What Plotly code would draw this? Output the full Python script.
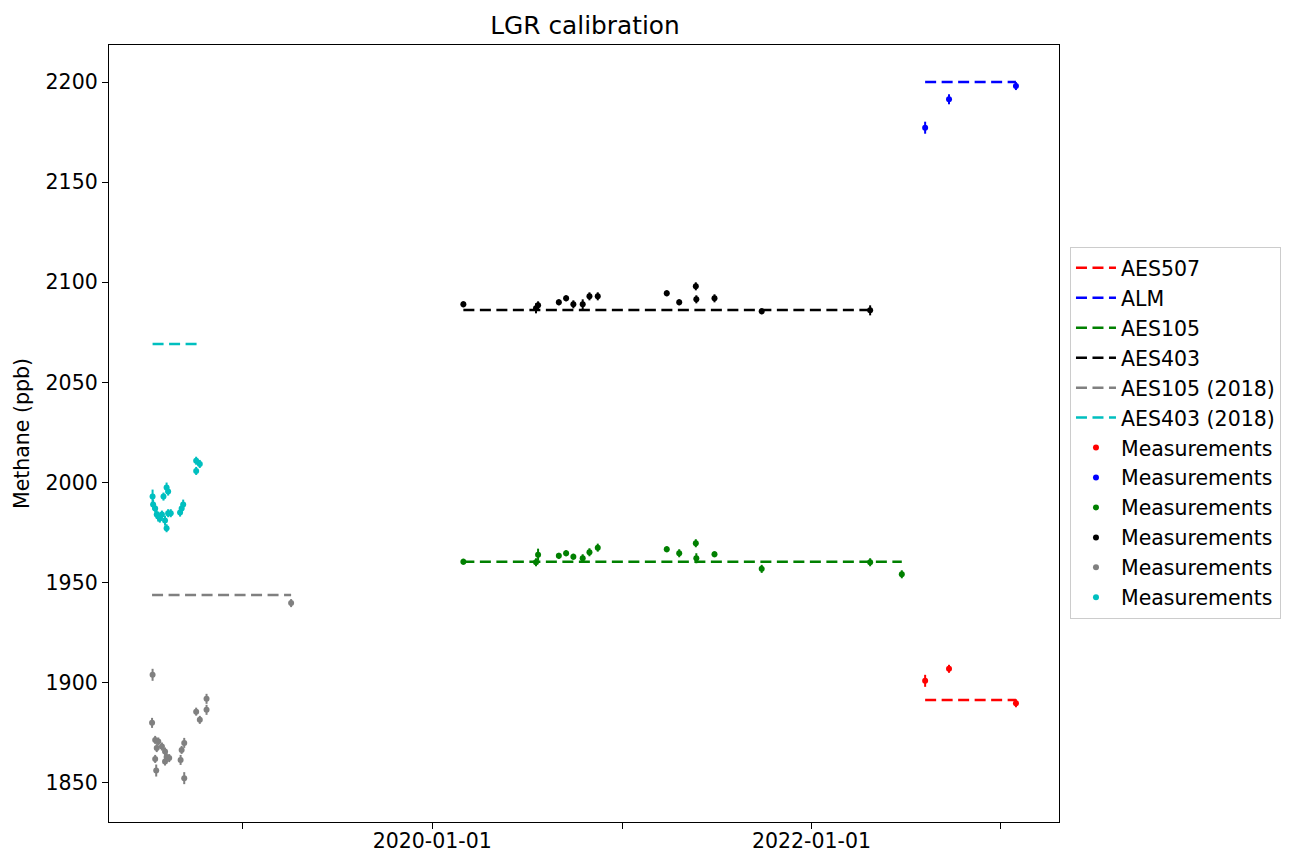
import plotly.graph_objects as go

# Calibration gases: assigned methane values (ppb) and plot colours
ref_names = ["AES507", "ALM", "AES105", "AES403", "AES105 (2018)", "AES403 (2018)"]
ref_values = [1891.4, 2200.0, 1960.4, 2086.2, 1943.8, 2069.2]
colors = ["#ff0000", "#0000ff", "#008000", "#000000", "#808080", "#00bfbf"]

# LGR measurements per gas: dates, measured methane (ppb), 1-sigma error (ppb)
aes507_dates = ["2022-08-08", "2022-09-23", "2023-01-30"]
aes507_vals = [1901.0, 1907.0, 1889.8]
aes507_err = [3.0, 2.0, 2.0]

alm_dates = ["2022-08-08", "2022-09-23", "2023-01-30"]
alm_vals = [2177.2, 2191.4, 2198.0]
alm_err = [3.0, 2.5, 2.0]

aes105_dates = ["2020-03-01", "2020-07-19", "2020-07-23", "2020-09-01", "2020-09-15",
                "2020-09-29", "2020-10-17", "2020-10-30", "2020-11-15", "2021-03-28",
                "2021-04-21", "2021-05-23", "2021-05-24", "2021-06-28", "2021-09-27",
                "2022-04-24", "2022-06-24"]
aes105_vals = [1960.5, 1960.2, 1964.0, 1963.4, 1964.7, 1963.0, 1962.2, 1965.2, 1967.5,
               1966.7, 1964.7, 1969.7, 1962.2, 1964.2, 1956.9, 1960.2, 1954.2]
aes105_err = [1.5, 2.0, 3.0, 1.5, 1.5, 1.5, 2.0, 2.0, 2.0, 1.5, 2.0, 2.0, 2.5, 1.5, 2.0, 2.0, 2.0]

aes403_dates = ["2020-03-01", "2020-07-19", "2020-07-23", "2020-09-01", "2020-09-15",
                "2020-09-29", "2020-10-17", "2020-10-30", "2020-11-15", "2021-03-28",
                "2021-04-21", "2021-05-23", "2021-05-24", "2021-06-28", "2021-09-27",
                "2022-04-24"]
aes403_vals = [2089.0, 2087.0, 2088.5, 2090.0, 2092.0, 2089.0, 2089.0, 2093.0, 2093.0,
               2094.5, 2090.0, 2098.0, 2091.5, 2092.0, 2085.5, 2086.0]
aes403_err = [1.5, 2.5, 2.0, 1.5, 1.5, 2.0, 2.5, 2.0, 2.0, 1.5, 1.5, 2.0, 2.0, 2.0, 1.5, 2.5]

aes105_2018_dates = ["2018-07-11", "2018-07-10", "2018-07-16", "2018-07-22", "2018-07-19",
                     "2018-07-29", "2018-07-16", "2018-07-18", "2018-08-04", "2018-08-07",
                     "2018-08-12", "2018-08-04", "2018-09-10", "2018-09-05", "2018-09-03",
                     "2018-09-10", "2018-10-03", "2018-10-10", "2018-10-23", "2018-10-23",
                     "2019-04-04"]
aes105_2018_vals = [1904.0, 1880.0, 1871.5, 1870.7, 1867.4, 1868.2, 1862.0, 1856.2, 1865.7,
                    1863.0, 1862.4, 1860.7, 1870.0, 1866.5, 1861.5, 1852.4, 1885.6, 1881.5,
                    1892.0, 1886.5, 1939.8]
aes105_2018_err = [3.0, 2.5, 2.0, 2.0, 2.0, 2.0, 2.0, 3.0, 2.0, 2.5, 2.0, 2.0, 2.5, 2.0,
                   2.5, 3.0, 2.0, 2.0, 2.5, 2.5, 2.0]

aes403_2018_dates = ["2018-07-11", "2018-07-12", "2018-07-16", "2018-07-19", "2018-07-22",
                     "2018-07-25", "2018-07-29", "2018-08-01", "2018-08-04", "2018-08-07",
                     "2018-08-07", "2018-08-10", "2018-08-10", "2018-08-15", "2018-09-02",
                     "2018-09-05", "2018-09-08", "2018-10-03", "2018-10-10", "2018-10-03"]
aes403_2018_vals = [1993.0, 1989.0, 1987.0, 1984.0, 1983.0, 1982.0, 1984.0, 1993.0, 1981.0,
                    1977.2, 1997.5, 1995.5, 1984.7, 1984.7, 1985.0, 1987.0, 1989.0, 2010.9,
                    2009.3, 2005.8]
aes403_2018_err = [3.5, 2.5, 2.0, 2.0, 2.5, 2.0, 2.0, 2.0, 2.5, 2.0, 2.5, 2.0, 2.0, 2.0,
                   2.0, 2.0, 2.5, 2.0, 2.0, 2.0]

series = [
    (aes507_dates, aes507_vals, aes507_err),
    (alm_dates, alm_vals, alm_err),
    (aes105_dates, aes105_vals, aes105_err),
    (aes403_dates, aes403_vals, aes403_err),
    (aes105_2018_dates, aes105_2018_vals, aes105_2018_err),
    (aes403_2018_dates, aes403_2018_vals, aes403_2018_err),
]

# x-axis ticks: one per year, labels on even years only
tick_dates = ["2019-01-01", "2020-01-01", "2021-01-01", "2022-01-01", "2023-01-01"]
tick_labels = ["", "2020-01-01", "", "2022-01-01", ""]

FONT = "DejaVu Sans"
FS = 20.5
fig = go.Figure()

# Assigned value of each gas, spanning the period it was measured
for i, (name, val, col, (d, _, _)) in enumerate(zip(ref_names, ref_values, colors, series)):
    ds = sorted(d)
    fig.add_trace(go.Scatter(
        x=[ds[0], ds[-1]], y=[val, val], mode="lines", name=name,
        line=dict(color=col, width=2.5, dash="11px,5.5px"),
        legendgroup=f"ref{i}", hoverinfo="skip",
    ))

# Measurements with error bars
for i, ((d, v, e), col) in enumerate(zip(series, colors)):
    fig.add_trace(go.Scatter(
        x=d, y=v, mode="markers", name="Measurements",
        marker=dict(color=col, size=6, line=dict(width=0)),
        error_y=dict(type="data", array=e, visible=True, color=col, thickness=2, width=0),
        legendgroup=f"meas{i}",
    ))

axis_common = dict(
    showline=True, linecolor="black", linewidth=1.3, mirror=True,
    showgrid=False, zeroline=False, automargin=False,
    ticks="outside", ticklen=6, tickwidth=1.3, tickcolor="black",
    tickfont=dict(family=FONT, size=FS, color="black"),
)

fig.update_layout(
    width=1293, height=852,
    margin=dict(l=109, r=232, t=45, b=30),
    paper_bgcolor="white", plot_bgcolor="white",
    title=dict(text="LGR calibration", x=(109 + 1061) / 2 / 1293, xanchor="center",
               y=1 - 25 / 852, yanchor="middle",
               font=dict(family=FONT, size=24.8, color="black")),
    font=dict(family=FONT, color="black"),
    xaxis=dict(type="date", range=["2018-04-18", "2023-04-23"],
               tickvals=tick_dates, ticktext=tick_labels, ticklabelstandoff=-6,
               **axis_common),
    yaxis=dict(range=[1830.5, 2218.5], tickvals=list(range(1850, 2201, 50)),
               title=dict(text="Methane (ppb)", font=dict(family=FONT, size=FS, color="black"),
                          standoff=10),
               **axis_common),
    legend=dict(x=(1072 - 109) / 952, xanchor="left", y=0.740, yanchor="top",
                bgcolor="white", bordercolor="#cccccc", borderwidth=1,
                font=dict(family=FONT, size=FS, color="black"),
                tracegroupgap=0.3, traceorder="grouped", itemwidth=40),
    showlegend=True,
)

fig.write_html("out.html")
